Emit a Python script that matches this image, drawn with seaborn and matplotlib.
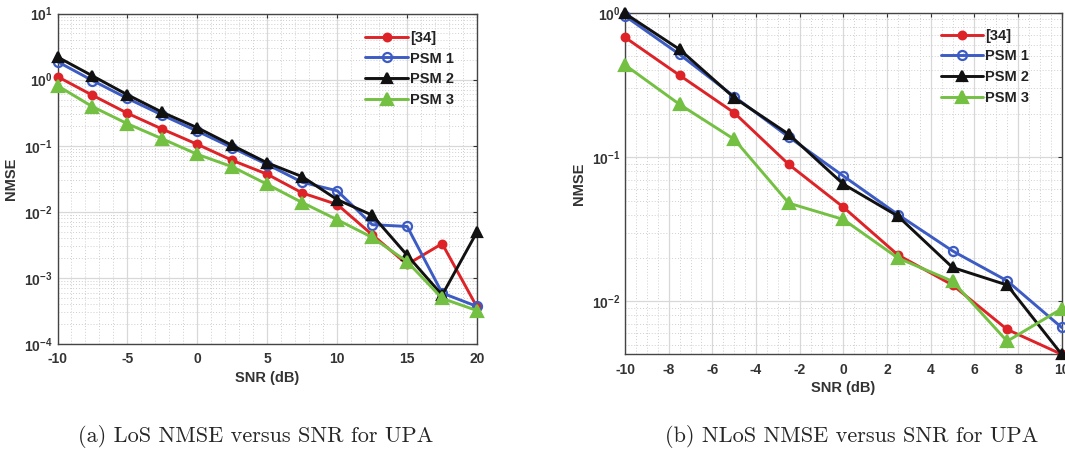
import numpy as np
import pandas as pd
import seaborn as sns
import matplotlib.pyplot as plt
from matplotlib.ticker import LogLocator, MultipleLocator, FixedLocator, NullFormatter

# LoS (a)
snr_los = [-10, -7.5, -5, -2.5, 0, 2.5, 5, 7.5, 10, 12.5, 15, 17.5, 20]
los_ref34 = [1.11, 0.58, 0.31, 0.178, 0.105, 0.060, 0.037, 0.0193, 0.0129, 0.0045, 0.0016, 0.0033, 0.00036]
los_psm1 = [1.87, 0.97, 0.52, 0.29, 0.166, 0.093, 0.052, 0.028, 0.0208, 0.0064, 0.0060, 0.00059, 0.00037]
los_psm2 = [2.2, 1.14, 0.59, 0.32, 0.187, 0.101, 0.055, 0.034, 0.0153, 0.0089, 0.0022, 0.00055, 0.0050]
los_psm3 = [0.81, 0.39, 0.215, 0.127, 0.074, 0.048, 0.026, 0.0138, 0.0076, 0.0041, 0.00176, 0.00049, 0.00032]

# NLoS (b)
snr_nlos = [-10, -7.5, -5, -2.5, 0, 2.5, 5, 7.5, 10]
nlos_ref34 = [0.676, 0.369, 0.203, 0.089, 0.045, 0.021, 0.013, 0.0064, 0.0043]
nlos_psm1 = [0.95, 0.515, 0.263, 0.138, 0.074, 0.040, 0.0224, 0.0139, 0.0066]
nlos_psm2 = [0.99, 0.558, 0.258, 0.144, 0.065, 0.039, 0.0172, 0.013, 0.0043]
nlos_psm3 = [0.435, 0.232, 0.133, 0.048, 0.037, 0.020, 0.0138, 0.0053, 0.0089]

labels = ['[34]', 'PSM 1', 'PSM 2', 'PSM 3']
colors = ['#dd2327', '#3c5cc4', '#111111', '#74c043']
markers = ['o', 'o', '^', '^']
msizes = [5.5, 6.5, 7.5, 8]
faces = ['#dd2327', 'none', '#111111', '#74c043']
captions = ['(a) LoS NMSE versus SNR for UPA', '(b) NLoS NMSE versus SNR for UPA']

sns.set_theme(style='white')
plt.rcParams['font.family'] = ['Liberation Sans', 'DejaVu Sans']
plt.rcParams['mathtext.fontset'] = 'custom'
plt.rcParams['mathtext.bf'] = 'Liberation Sans:bold'
plt.rcParams['mathtext.rm'] = 'Liberation Sans:bold'

fig = plt.figure(figsize=(10.65, 4.59), dpi=100)
ax1 = fig.add_axes([0.054, 0.2505, 0.394, 0.72])
ax2 = fig.add_axes([0.5869, 0.228, 0.41, 0.744])


def draw(ax, x, series, xlim, ylim, xmajor, xminor, yticks, legend_anchor):
    for lab, y, c, m, ms, fc in zip(labels, series, colors, markers, msizes, faces):
        df = pd.DataFrame({'snr': x, 'nmse': y})
        sns.lineplot(data=df, x='snr', y='nmse', ax=ax, color=c, linewidth=2.1,
                     marker=m, markersize=ms, markerfacecolor=fc,
                     markeredgecolor=c, markeredgewidth=1.6, label=lab,
                     clip_on=False, zorder=3)
    ax.set_yscale('log')
    ax.set_xlim(*xlim)
    ax.set_ylim(*ylim)
    ax.xaxis.set_major_locator(MultipleLocator(xmajor))
    ax.xaxis.set_minor_locator(MultipleLocator(xminor))
    ax.yaxis.set_major_locator(FixedLocator(yticks))
    ax.yaxis.set_minor_locator(LogLocator(base=10, subs=np.arange(2, 10)))
    ax.yaxis.set_minor_formatter(NullFormatter())
    ax.set_yticklabels([r'$\mathbf{10^{%d}}$' % int(np.log10(t)) for t in yticks])
    ax.set_xticklabels(['%g' % t for t in ax.get_xticks()])
    ax.grid(which='major', color='#d8d8d8', linewidth=0.9, linestyle='-')
    ax.grid(which='minor', color='#cfcfcf', linewidth=0.7, linestyle=(0, (1, 2)))
    ax.set_axisbelow(True)
    ax.tick_params(which='both', direction='in', top=True, right=True,
                   colors='#333333', labelsize=10, length=3, width=0.8)
    ax.tick_params(which='minor', length=0)
    ax.tick_params(axis='x', pad=6)
    for lbl in ax.get_xticklabels() + ax.get_yticklabels():
        lbl.set_fontweight('bold')
    for s in ax.spines.values():
        s.set_color('#444444')
        s.set_linewidth(1.0)
    ax.set_xlabel('SNR (dB)', fontsize=10.5, fontweight='bold', color='#333333', labelpad=3)
    ax.set_ylabel('NMSE', fontsize=10.5, fontweight='bold', color='#333333', labelpad=4)
    leg = ax.legend(loc='upper left', bbox_to_anchor=legend_anchor, frameon=False,
                    handlelength=2.9, handletextpad=0.15, labelspacing=0.45,
                    prop={'weight': 'bold', 'size': 10.5}, borderaxespad=0)
    for t in leg.get_texts():
        t.set_color('#222222')


draw(ax1, snr_los, [los_ref34, los_psm1, los_psm2, los_psm3],
     (-10, 20), (1e-4, 1e1), 5, 1, [1e-4, 1e-3, 1e-2, 1e-1, 1e0, 1e1], (0.72, 0.965))
draw(ax2, snr_nlos, [nlos_ref34, nlos_psm1, nlos_psm2, nlos_psm3],
     (-10, 10), (0.0043, 1.0), 2, 0.5, [1e-2, 1e-1, 1e0], (0.71, 0.97))

fig.text(0.24, 0.048, captions[0], family='cmr10', fontsize=16, ha='center', va='center')
fig.text(0.8, 0.048, captions[1], family='cmr10', fontsize=16, ha='center', va='center')

fig.savefig('out.png', dpi=100)
